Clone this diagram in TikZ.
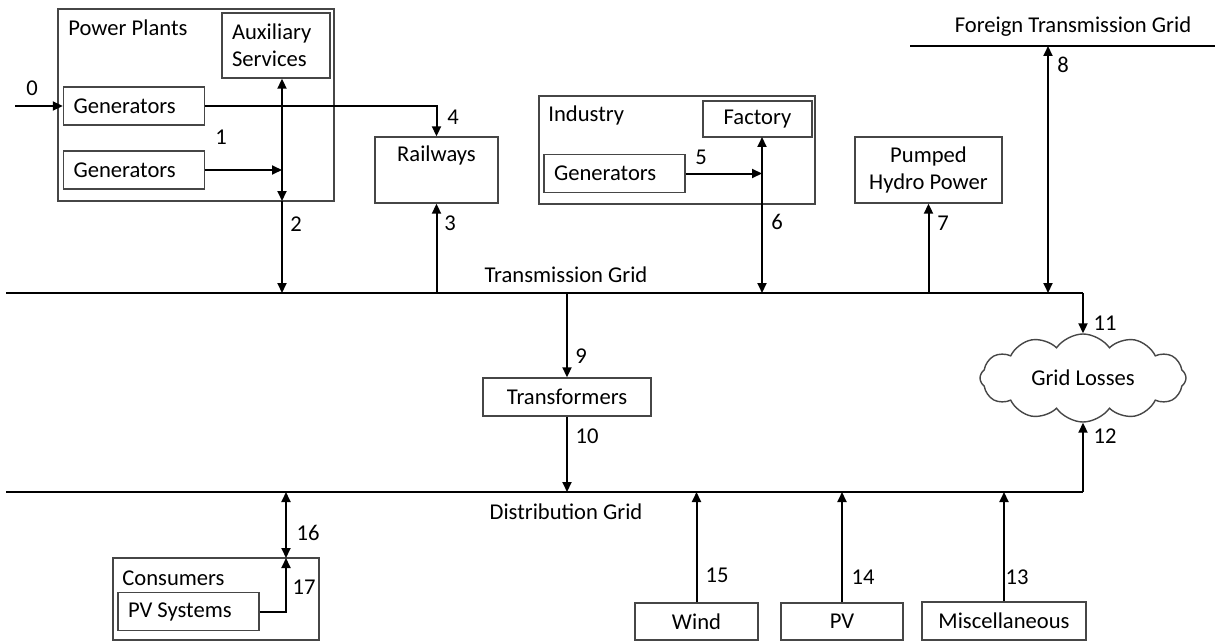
\documentclass[tikz,border=0pt]{standalone}
\usepackage{fontspec}
\setmainfont{Carlito}
\usetikzlibrary{arrows.meta,shapes.symbols,positioning}
\tikzset{
  every node/.style={font=\fontsize{11.3}{13.5}\selectfont},
  box/.style={draw=gray!55!black,line width=0.7pt,inner sep=0pt,align=center},
  grp/.style={draw=gray!55!black,line width=0.7pt,inner sep=0pt},
  lbox/.style={box,inner xsep=5pt,text width=60.5pt,minimum height=19pt,align=flush left},
  title/.style={anchor=west,inner sep=0pt},
  num/.style={inner sep=0pt},
  bus/.style={line width=1.2pt},
  flow/.style={line width=1pt,-{Triangle[length=5pt,width=4.5pt]}},
  flowboth/.style={line width=1pt,{Triangle[length=5pt,width=4.5pt]}-{Triangle[length=5pt,width=4.5pt]}}
}
\begin{document}
\begin{tikzpicture}[x=0.5pt,y=-0.5pt]
      \useasboundingbox (0,0) rectangle (1215,642);
      % boxes
      \node[grp,minimum width=138pt,minimum height=96pt] (pp) at (196,105) {};
      \node[title] (pptitle) at (68,28) {Power Plants};
      \node[box,inner xsep=5pt,text width=44pt,align=flush left,minimum height=32.5pt] (aux) at (276,45.5) {Auxiliary\\Services};
      \node[lbox] (gen1) at (134,106) {Generators};
      \node[lbox] (gen2) at (134,170) {Generators};
      \node[box,minimum width=61.5pt,minimum height=33pt,label={[anchor=north,yshift=-1pt]north:Railways}] (rail) at (436.5,170) {};
      \node[grp,minimum width=138pt,minimum height=54pt] (ind) at (677,150) {};
      \node[title] (indtitle) at (548,115) {Industry};
      \node[box,minimum width=54.5pt,minimum height=18pt] (fac) at (757.5,119) {Factory};
      \node[lbox] (igen) at (614.5,173.5) {Generators};
      \node[box,minimum width=73.5pt,minimum height=33pt] (php) at (928.5,170) {Pumped\\Hydro Power};
      \node[box,minimum width=84pt,minimum height=19pt] (trf) at (567,397) {Transformers};
      \node[cloud,draw=gray!55!black,line width=0.7pt,cloud puffs=12,cloud puff arc=110,aspect=2.35,
            minimum width=103pt,minimum height=44pt,inner sep=0pt] (loss) at (1083,378) {Grid Losses};
      \node[grp,minimum width=103pt,minimum height=41pt] (cons) at (216,599) {};
      \node[title] (constitle) at (122,578) {Consumers};
      \node[lbox] (pvs) at (188.5,611.5) {PV Systems};
      \node[box,minimum width=61.5pt,minimum height=18.5pt] (wind) at (696.5,621.5) {Wind};
      \node[box,minimum width=61pt,minimum height=18.5pt] (pv) at (842,621.5) {PV};
      \node[box,minimum width=82pt,minimum height=19pt] (misc) at (1004,621) {Miscellaneous};
      % grids
      \coordinate (tg-w) at (6,293);
      \coordinate (tg-e) at (1083,293);
      \coordinate (dg-w) at (6,492);
      \coordinate (dg-e) at (1083,492);
      \coordinate (fg-w) at (910,46);
      \coordinate (fg-e) at (1215,46);
      \draw[bus] (tg-w) -- (tg-e);
      \draw[bus] (dg-w) -- (dg-e);
      \draw[bus] (fg-w) -- (fg-e);
      \node (tglbl) at (566,275) {Transmission Grid};
      \node (dglbl) at (566,512) {Distribution Grid};
      \node (fglbl) at (1073,27) {Foreign Transmission Grid};
      % flows
      \coordinate (in0) at (15,106);
      \coordinate (ppb) at (282,201);
      \coordinate (facb) at (762,137);
      \coordinate (fg8) at (1048,46);
      \coordinate (consb) at (286,558);
      \draw[flow] (in0) -- (gen1.west);
      \draw[flowboth] (aux.south -| ppb) -- (ppb);
      \draw[flow] (gen2.east) -- (gen2.east -| ppb);
      \draw[flow] (ppb) -- (ppb |- tg-w);
      \draw[flow] (gen1.east) -| (rail.north);
      \draw[flow] (rail.south |- tg-w) -- (rail.south);
      \draw[flow] (igen.east) -- (igen.east -| facb);
      \draw[flowboth] (facb) -- (facb |- tg-w);
      \draw[flow] (php.south |- tg-w) -- (php.south);
      \draw[flowboth] (fg8) -- (fg8 |- tg-w);
      \draw[flow] (tg-e) -- (loss.north);
      \draw[flow] (dg-e) -- (loss.south);
      \draw[flow] (trf.north |- tg-w) -- (trf.north);
      \draw[flow] (trf.south) -- (trf.south |- dg-w);
      \draw[flowboth] (consb |- dg-w) -- (consb);
      \draw[flow] (pvs.east) -| (consb);
      \draw[flow] (wind.north) -- (wind.north |- dg-w);
      \draw[flow] (pv.north) -- (pv.north |- dg-w);
      \draw[flow] (misc.north) -- (misc.north |- dg-w);
      % numbers
      \foreach \n/\x/\y in {0/32/88,1/221/137,2/296/224,3/450/223,4/453/117,5/701/157,
                            6/777/222,7/943/223,8/1063/65,9/581/356,10/587/436,11/1105/323,
                            12/1105/436,13/1017/577,14/863/577,15/717/575,16/308/533,17/304/587}
        \node[num] (n\n) at (\x,\y) {\n};
\end{tikzpicture}
\end{document}
